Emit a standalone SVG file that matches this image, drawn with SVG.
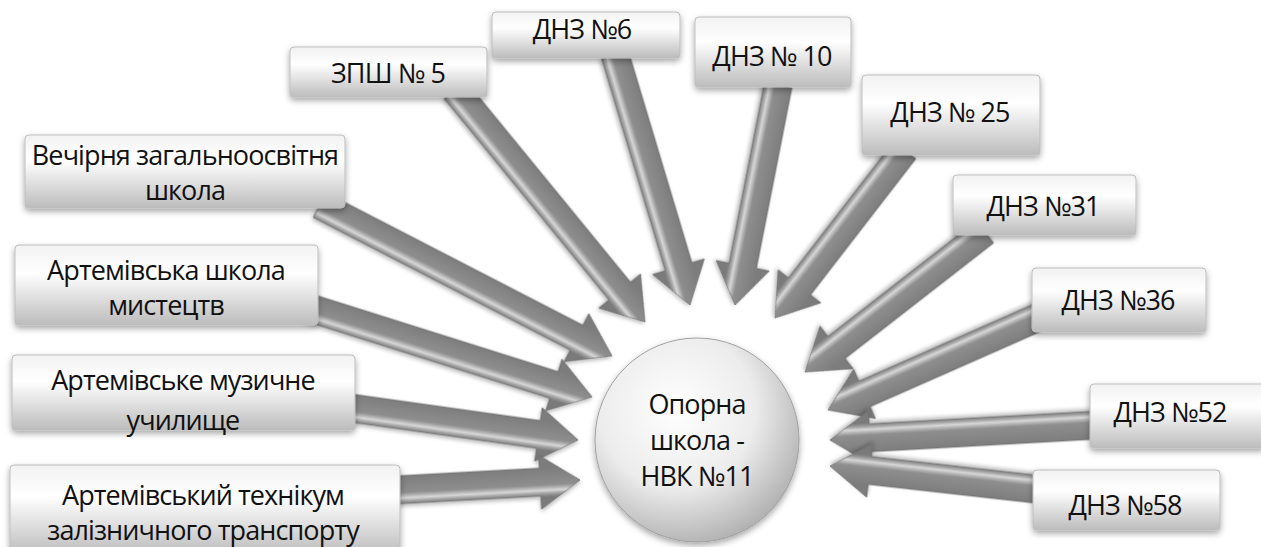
<svg xmlns="http://www.w3.org/2000/svg" width="1261" height="547" viewBox="0 0 1261 547">
<defs>
<style>
.box{fill:url(#boxg);stroke:#bdbdbd;stroke-width:1;filter:url(#sh)}
.t{font-family:"Open Sans","Liberation Sans",sans-serif;font-size:27px;letter-spacing:-0.9px;fill:#111111;text-anchor:middle}
.arr{fill:url(#arrg);stroke:#6e6e6e;stroke-width:0.8;filter:url(#ash)}
</style>
<linearGradient id="boxg" x1="0" y1="0" x2="0" y2="1">
<stop offset="0" stop-color="#f2f2f2"/>
<stop offset="0.35" stop-color="#ffffff"/>
<stop offset="1" stop-color="#bcbcbc"/>
</linearGradient>
<linearGradient id="arrg" gradientUnits="userSpaceOnUse" x1="0" y1="-15" x2="0" y2="15">
<stop offset="0" stop-color="#7c7c7c"/>
<stop offset="0.6" stop-color="#8e8e8e"/>
<stop offset="0.78" stop-color="#d6d6d6"/>
<stop offset="0.9" stop-color="#9a9a9a"/>
<stop offset="1" stop-color="#7a7a7a"/>
</linearGradient>
<radialGradient id="circg" cx="0.4" cy="0.35" r="0.7">
<stop offset="0" stop-color="#ffffff"/>
<stop offset="0.55" stop-color="#ececec"/>
<stop offset="1" stop-color="#adadad"/>
</radialGradient>
<filter id="sh" x="-10%" y="-20%" width="120%" height="150%">
<feDropShadow dx="0" dy="3" stdDeviation="3" flood-color="#000" flood-opacity="0.35"/>
</filter>
<filter id="ash" x="-10%" y="-30%" width="120%" height="160%">
<feDropShadow dx="0" dy="2" stdDeviation="2" flood-color="#000" flood-opacity="0.3"/>
</filter>
</defs>
<rect width="1261" height="547" fill="#ffffff"/>
<g id="connectors">
<polygon class="arr" transform="translate(645,322) rotate(50.7)" points="0,0 -40,-27 -40,-14 -300,-14 -300,14 -40,14 -40,27"/>
<polygon class="arr" transform="translate(690,305) rotate(73.3)" points="0,0 -40,-27 -40,-14 -261,-14 -261,14 -40,14 -40,27"/>
<polygon class="arr" transform="translate(735,305) rotate(101.1)" points="0,0 -40,-27 -40,-14 -224,-14 -224,14 -40,14 -40,27"/>
<polygon class="arr" transform="translate(775,318) rotate(127.7)" points="0,0 -40,-27 -40,-14 -212,-14 -212,14 -40,14 -40,27"/>
<polygon class="arr" transform="translate(805,372) rotate(142.1)" points="0,0 -40,-27 -40,-14 -228,-14 -228,14 -40,14 -40,27"/>
<polygon class="arr" transform="translate(828,410) rotate(156.2)" points="0,0 -40,-27 -40,-14 -243,-14 -243,14 -40,14 -40,27"/>
<polygon class="arr" transform="translate(830,440) rotate(176.8)" points="0,0 -40,-27 -40,-14 -265,-14 -265,14 -40,14 -40,27"/>
<polygon class="arr" transform="translate(830,466) rotate(186.4)" points="0,0 -40,-27 -40,-14 -216,-14 -216,14 -40,14 -40,27"/>
<polygon class="arr" transform="translate(612,356) rotate(27.3)" points="0,0 -40,-27 -40,-14 -329,-14 -329,14 -40,14 -40,27"/>
<polygon class="arr" transform="translate(592,397) rotate(17.5)" points="0,0 -40,-27 -40,-14 -306,-14 -306,14 -40,14 -40,27"/>
<polygon class="arr" transform="translate(578,440) rotate(8.0)" points="0,0 -40,-27 -40,-14 -230,-14 -230,14 -40,14 -40,27"/>
<polygon class="arr" transform="translate(580,480) rotate(-3.1)" points="0,0 -40,-27 -40,-14 -185,-14 -185,14 -40,14 -40,27"/>
</g>
<g id="center">
<circle cx="697" cy="440" r="102" fill="url(#circg)" stroke="#a0a0a0" stroke-width="1" filter="url(#sh)"/>
<text class="t" x="697" y="414">Опорна</text>
<text class="t" x="697" y="450">школа -</text>
<text class="t" x="697" y="486">НВК №11</text>
</g>
<g id="n-zpsh5"><rect class="box" x="290" y="47" width="197" height="50" rx="4"/><text class="t" x="388" y="83">ЗПШ № 5</text></g>
<g id="n-dnz6"><rect class="box" x="492" y="12" width="188" height="46" rx="4"/><text class="t" x="582" y="39">ДНЗ №6</text></g>
<g id="n-dnz10"><rect class="box" x="695" y="17" width="156" height="70" rx="4"/><text class="t" x="772" y="66">ДНЗ № 10</text></g>
<g id="n-dnz25"><rect class="box" x="862" y="75" width="178" height="80" rx="4"/><text class="t" x="950" y="122">ДНЗ № 25</text></g>
<g id="n-dnz31"><rect class="box" x="953" y="175" width="183" height="60" rx="4"/><text class="t" x="1043" y="216">ДНЗ №31</text></g>
<g id="n-dnz36"><rect class="box" x="1032" y="268" width="174" height="64" rx="4"/><text class="t" x="1118" y="310">ДНЗ №36</text></g>
<g id="n-dnz52"><rect class="box" x="1090" y="384" width="175" height="64" rx="4"/><text class="t" x="1170" y="422">ДНЗ №52</text></g>
<g id="n-dnz58"><rect class="box" x="1033" y="470" width="187" height="60" rx="4"/><text class="t" x="1125" y="515">ДНЗ №58</text></g>
<g id="n-vechirnia"><rect class="box" x="25" y="135" width="320" height="73" rx="4"/><text class="t" x="185" y="165">Вечірня загальноосвітня</text><text class="t" x="185" y="200">школа</text></g>
<g id="n-mystetstv"><rect class="box" x="15" y="245" width="303" height="80" rx="4"/><text class="t" x="166" y="280">Артемівська школа</text><text class="t" x="166" y="315">мистецтв</text></g>
<g id="n-muzychne"><rect class="box" x="12" y="355" width="343" height="75" rx="4"/><text class="t" x="183" y="390">Артемівське музичне</text><text class="t" x="183" y="430">училище</text></g>
<g id="n-tekhnikum"><rect class="box" x="10" y="465" width="390" height="90" rx="4"/><text class="t" x="203" y="505">Артемівський технікум</text><text class="t" x="203" y="540">залізничного транспорту</text></g>
</svg>
